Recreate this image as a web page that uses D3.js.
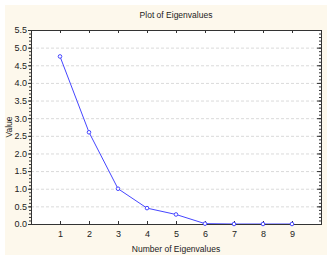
<!DOCTYPE html>
<html>
<head>
<meta charset="utf-8">
<script src="https://cdn.jsdelivr.net/npm/d3@7"></script>
<style>
  body { margin: 0; background: #fff; }
  text { font-family: "Liberation Sans", Arial, sans-serif; fill: #222; }
</style>
</head>
<body>
<div id="chart"></div>
<script>
// eigenvalue number and value
var components = [1, 2, 3, 4, 5, 6, 7, 8, 9];
var eigenvalues = [4.75, 2.6, 1.0, 0.45, 0.27, 0.01, 0.0, 0.0, 0.0];
var yTicks = [0, 0.5, 1, 1.5, 2, 2.5, 3, 3.5, 4, 4.5, 5, 5.5];

function init() {
    const w = 333;
    const h = 259;
    const m = { left: 31, right: 12, top: 30, bottom: 35 };

    var svg = d3.select("#chart")
        .append("svg")
        .attr("width", w)
        .attr("height", h);

    // cream panel behind everything
    svg.append("rect")
        .attr("x", 5).attr("y", 5)
        .attr("width", 322).attr("height", 250)
        .attr("fill", "#fdf8ec");

    var xScale = d3.scaleLinear()
        .domain([0, 10])
        .range([m.left, w - m.right]);

    var yScale = d3.scaleLinear()
        .domain([0, 5.5])
        .range([h - m.bottom, m.top]);

    // plot area
    svg.append("rect")
        .attr("x", m.left).attr("y", m.top)
        .attr("width", xScale(10) - m.left)
        .attr("height", yScale(0) - m.top)
        .attr("fill", "#fff");

    // dashed grid
    svg.append("g")
        .selectAll("line")
        .data(yTicks.slice(1, -1))
        .enter()
        .append("line")
        .attr("x1", m.left).attr("x2", xScale(10))
        .attr("y1", (d) => yScale(d) + 0.5)
        .attr("y2", (d) => yScale(d) + 0.5)
        .attr("stroke", "#dadada")
        .attr("stroke-dasharray", "3,2");

    // series
    var line = d3.line()
        .x((d, i) => xScale(components[i]))
        .y((d) => yScale(d));

    svg.append("path")
        .datum(eigenvalues)
        .attr("d", line)
        .attr("fill", "none")
        .attr("stroke", "#4646ff")
        .attr("stroke-width", 1);

    // axes
    var minor = d3.range(0, 5.51, 0.1);

    var left = svg.append("g")
        .attr("transform", "translate(" + m.left + ",0)")
        .call(d3.axisLeft(yScale).tickValues(minor).tickSize(2).tickFormat(""));
    left.selectAll(".domain").remove();
    svg.append("g")
        .attr("transform", "translate(" + m.left + ",0)")
        .call(d3.axisLeft(yScale).tickValues(yTicks).tickSize(3).tickFormat(d3.format(".1f")))
        .call((g) => g.selectAll("text").attr("font-size", 9).attr("x", -4));

    var right = svg.append("g")
        .attr("transform", "translate(" + xScale(10) + ",0)")
        .call(d3.axisLeft(yScale).tickValues(minor).tickSize(2).tickFormat(""));
    svg.append("g")
        .attr("transform", "translate(" + xScale(10) + ",0)")
        .call(d3.axisLeft(yScale).tickValues(yTicks).tickSize(4).tickFormat(""));

    svg.append("g")
        .attr("transform", "translate(0," + yScale(0) + ")")
        .call(d3.axisTop(xScale).tickValues(components).tickSize(3).tickFormat(""));
    svg.append("g")
        .attr("transform", "translate(0," + yScale(0) + ")")
        .call(d3.axisBottom(xScale).tickValues(components).tickSize(0).tickPadding(7))
        .call((g) => g.selectAll("text").attr("font-size", 9))
        .call((g) => g.select(".domain").remove());

    svg.append("g")
        .attr("transform", "translate(0," + m.top + ")")
        .call(d3.axisBottom(xScale).tickValues(components).tickSize(3).tickFormat(""));

    // frame
    svg.append("rect")
        .attr("x", m.left + 0.5).attr("y", m.top + 0.5)
        .attr("width", xScale(10) - m.left)
        .attr("height", yScale(0) - m.top)
        .attr("fill", "none")
        .attr("stroke", "#333");

    // markers
    svg.append("g")
        .selectAll("circle")
        .data(eigenvalues)
        .enter()
        .append("circle")
        .attr("cx", (d, i) => xScale(components[i]))
        .attr("cy", (d) => yScale(d))
        .attr("r", 1.8)
        .attr("fill", "#fff")
        .attr("stroke", "#4646ff");

    svg.selectAll(".tick line").attr("stroke", "#333");
    svg.selectAll(".domain").attr("stroke", "#333");

    // labels
    svg.append("text")
        .attr("x", 176).attr("y", 18)
        .attr("text-anchor", "middle")
        .attr("font-size", 8.5)
        .text("Plot of Eigenvalues");

    svg.append("text")
        .attr("x", 176).attr("y", 252)
        .attr("text-anchor", "middle")
        .attr("font-size", 8.5)
        .text("Number of Eigenvalues");

    svg.append("text")
        .attr("transform", "translate(12," + yScale(2.75) + ") rotate(-90)")
        .attr("text-anchor", "middle")
        .attr("font-size", 8.5)
        .text("Value");
}
window.onload = init;
</script>
</body>
</html>
